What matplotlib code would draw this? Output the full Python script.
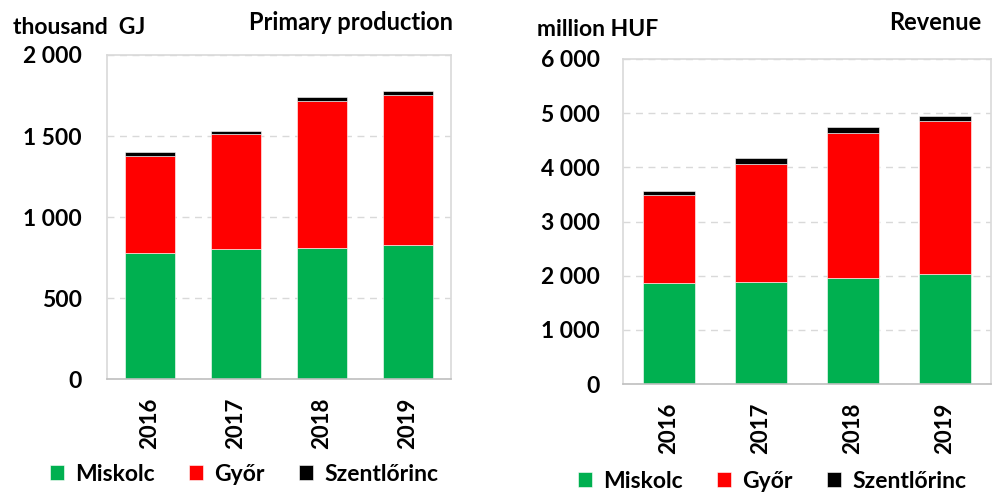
import numpy as np
import matplotlib.pyplot as plt
from matplotlib.ticker import FuncFormatter

plt.rcParams['font.family'] = ['Lato', 'DejaVu Sans']
plt.rcParams['font.weight'] = 'bold'

years = ['2016', '2017', '2018', '2019']
series = ['Miskolc', 'Győr', 'Szentlőrinc']
colors = ['#00b050', '#ff0000', '#000000']

# primary production, thousand GJ
prod_miskolc = [780, 800, 810, 825]
prod_gyor = [595, 710, 905, 930]
prod_szent = [25, 20, 25, 22]

# revenue, million HUF
rev_miskolc = [1860, 1880, 1965, 2035]
rev_gyor = [1630, 2190, 2670, 2820]
rev_szent = [80, 100, 100, 85]

grey = '#d9d9d9'


def space_fmt(v, pos):
    return f'{int(v):,}'.replace(',', ' ')


def draw(ax, data, ymax, step, width, ypad):
    x = np.arange(len(years))
    bottom = np.zeros(len(years))
    handles = []
    for name, vals, c in zip(series, data, colors):
        h = ax.bar(x, vals, width, bottom=bottom, color=c, label=name,
                   edgecolor='white', linewidth=0.4)
        handles.append(h)
        bottom += np.array(vals)
    ax.set_xlim(-0.5, len(years) - 0.5)
    ax.set_ylim(0, ymax)
    ax.set_yticks(np.arange(0, ymax + 1, step))
    ax.yaxis.set_major_formatter(FuncFormatter(space_fmt))
    ax.set_xticks(x)
    ax.set_xticklabels(years, rotation=90, fontsize=16, fontweight='bold')
    ax.tick_params(axis='y', labelsize=16.5, length=0, pad=ypad)
    ax.tick_params(axis='x', length=0, pad=13)
    for t in ax.get_yticklabels():
        t.set_fontweight('bold')
    ax.yaxis.grid(True, color=grey, linestyle=(0, (5, 4)), linewidth=1)
    ax.set_axisbelow(True)
    for s in ax.spines.values():
        s.set_color(grey)
        s.set_linewidth(1.2)
    ax.spines['bottom'].set_color('#bfbfbf')
    return handles


leg_kw = dict(loc='center', ncol=3, frameon=False, fontsize=16.5,
              handlelength=0.6, handleheight=0.6, handletextpad=0.5,
              columnspacing=1.5)

fig = plt.figure(figsize=(10, 4.95), dpi=100)

ax1 = fig.add_axes([0.107, 0.234, 0.344, 0.655])
h1 = draw(ax1, [prod_miskolc, prod_gyor, prod_szent], 2000, 500, 0.58, 18)
fig.text(0.013, 0.945, 'thousand  GJ', fontsize=16.5, fontweight='bold', va='center')
fig.text(0.453, 0.955, 'Primary production', fontsize=17, fontweight='bold',
         ha='right', va='center')
fig.legend(h1, series, bbox_to_anchor=(0.244, 0.042), **leg_kw)

ax2 = fig.add_axes([0.623, 0.224, 0.368, 0.657])
h2 = draw(ax2, [rev_miskolc, rev_gyor, rev_szent], 6000, 1000, 0.565, 16.5)
fig.text(0.537, 0.94, 'million HUF', fontsize=16.5, fontweight='bold', va='center')
fig.text(0.981, 0.955, 'Revenue', fontsize=17, fontweight='bold',
         ha='right', va='center')
fig.legend(h2, series, bbox_to_anchor=(0.772, 0.028), **leg_kw)

fig.savefig('out.png', dpi=100)
